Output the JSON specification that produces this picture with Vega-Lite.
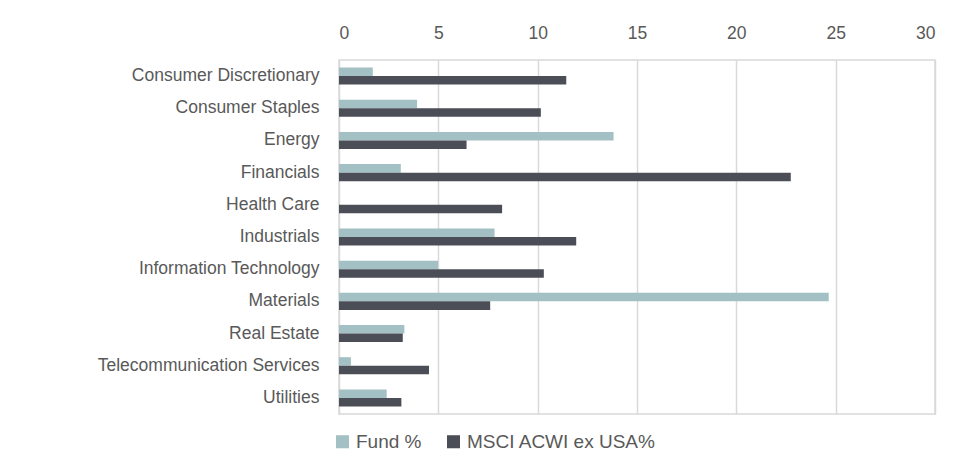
{
  "$schema": "https://vega.github.io/schema/vega-lite/v6.json",
  "autosize": {"type": "none"},
  "width": 596,
  "height": 354,
  "padding": {"left": 339, "top": 60, "right": 34, "bottom": 59},
  "background": "white",
  "config": {
    "font": "Liberation Sans",
    "view": {"stroke": "#d9d9d9", "strokeWidth": 1.5}
  },
  "data": {
    "values": [
      {"sector": "Consumer Discretionary", "series": "Fund %", "value": 1.7},
      {"sector": "Consumer Discretionary", "series": "MSCI ACWI ex USA%", "value": 11.44},
      {"sector": "Consumer Staples", "series": "Fund %", "value": 3.93},
      {"sector": "Consumer Staples", "series": "MSCI ACWI ex USA%", "value": 10.16},
      {"sector": "Energy", "series": "Fund %", "value": 13.82},
      {"sector": "Energy", "series": "MSCI ACWI ex USA%", "value": 6.42},
      {"sector": "Financials", "series": "Fund %", "value": 3.11},
      {"sector": "Financials", "series": "MSCI ACWI ex USA%", "value": 22.74},
      {"sector": "Health Care", "series": "Fund %", "value": 0},
      {"sector": "Health Care", "series": "MSCI ACWI ex USA%", "value": 8.21},
      {"sector": "Industrials", "series": "Fund %", "value": 7.83},
      {"sector": "Industrials", "series": "MSCI ACWI ex USA%", "value": 11.94},
      {"sector": "Information Technology", "series": "Fund %", "value": 4.99},
      {"sector": "Information Technology", "series": "MSCI ACWI ex USA%", "value": 10.31},
      {"sector": "Materials", "series": "Fund %", "value": 24.65},
      {"sector": "Materials", "series": "MSCI ACWI ex USA%", "value": 7.61},
      {"sector": "Real Estate", "series": "Fund %", "value": 3.29},
      {"sector": "Real Estate", "series": "MSCI ACWI ex USA%", "value": 3.21},
      {"sector": "Telecommunication Services", "series": "Fund %", "value": 0.6},
      {"sector": "Telecommunication Services", "series": "MSCI ACWI ex USA%", "value": 4.53},
      {"sector": "Utilities", "series": "Fund %", "value": 2.4},
      {"sector": "Utilities", "series": "MSCI ACWI ex USA%", "value": 3.14}
    ]
  },
  "mark": {"type": "bar"},
  "encoding": {
    "y": {
      "field": "sector",
      "type": "nominal",
      "sort": null,
      "scale": {"paddingInner": 0.47, "paddingOuter": 0.235},
      "axis": {
        "title": null,
        "domain": false,
        "ticks": false,
        "labelFontSize": 17.5,
        "labelColor": "#595959",
        "labelPadding": 20,
        "labelLimit": 0
      }
    },
    "yOffset": {"field": "series", "type": "nominal", "sort": ["Fund %", "MSCI ACWI ex USA%"]},
    "x": {
      "field": "value",
      "type": "quantitative",
      "scale": {"domain": [0, 30], "nice": false},
      "axis": {
        "orient": "top",
        "title": null,
        "values": [0, 5, 10, 15, 20, 25, 30],
        "domain": false,
        "ticks": false,
        "grid": true,
        "gridColor": "#d9d9d9",
        "gridWidth": 1.5,
        "labelFontSize": 17.5,
        "labelColor": "#595959",
        "labelPadding": 18
      }
    },
    "color": {
      "field": "series",
      "type": "nominal",
      "sort": ["Fund %", "MSCI ACWI ex USA%"],
      "scale": {"domain": ["Fund %", "MSCI ACWI ex USA%"], "range": ["#a3c0c4", "#4b4e57"]},
      "legend": {
        "orient": "none",
        "legendX": -6,
        "legendY": 372,
        "direction": "horizontal",
        "title": null,
        "symbolType": "square",
        "symbolSize": 170,
        "symbolStrokeWidth": 0,
        "labelFontSize": 19,
        "labelColor": "#595959",
        "labelLimit": 0,
        "columnPadding": 22
      }
    }
  }
}
